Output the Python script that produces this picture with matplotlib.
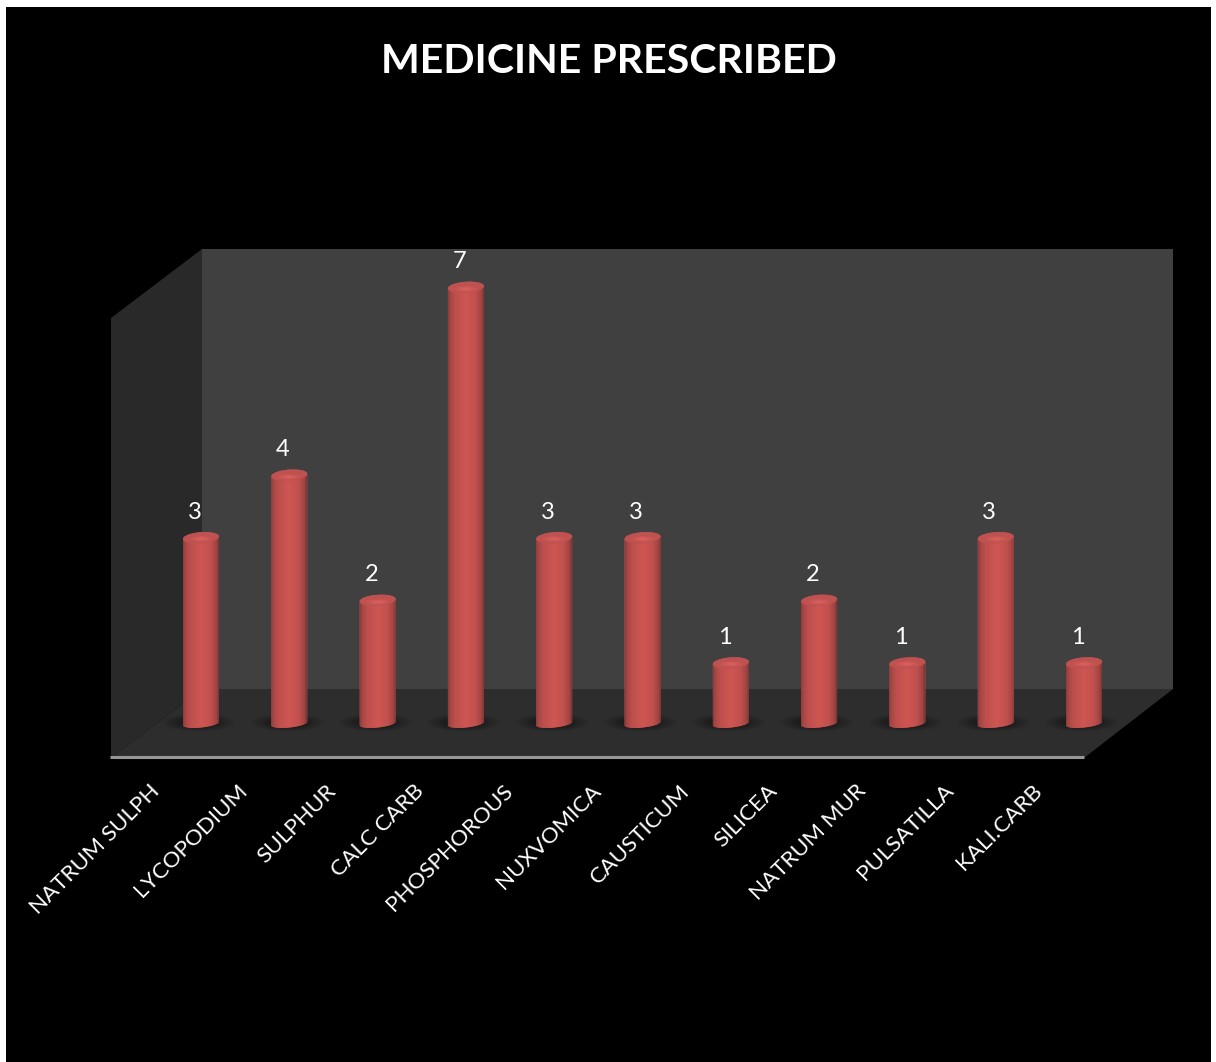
import matplotlib
matplotlib.use('Agg')
import matplotlib.pyplot as plt
import numpy as np
from matplotlib.patches import Polygon, PathPatch
from matplotlib.path import Path
from matplotlib.colors import LinearSegmentedColormap
from matplotlib.transforms import ScaledTranslation

medicines = ['NATRUM SULPH', 'LYCOPODIUM', 'SULPHUR', 'CALC CARB', 'PHOSPHOROUS', 'NUXVOMICA',
             'CAUSTICUM', 'SILICEA', 'NATRUM MUR', 'PULSATILLA', 'KALI.CARB']
prescribed = [3, 4, 2, 7, 3, 3, 1, 2, 1, 3, 1]

W, H = 1216, 1062
plt.rcParams['font.family'] = ['Lato', 'DejaVu Sans']

fig = plt.figure(figsize=(W / 100, H / 100), dpi=100, facecolor='white')


def px(x, y):
    return (x / W, 1 - y / H)


def panel(points, color, z=-1):
    fig.add_artist(Polygon([px(*p) for p in points], closed=True, facecolor=color, edgecolor='none',
                           transform=fig.transFigure, zorder=z))


# black chart area and the three walls of the box
panel([(6, 7), (1211, 7), (1211, 1062), (6, 1062)], '#000000', z=-3)
panel([(202, 249), (1173, 249), (1173, 689), (202, 689)], '#404040', z=-2)
panel([(111, 318), (202, 249), (202, 689), (111, 758)], '#292929', z=-2)
panel([(111, 758), (202, 689), (1173, 689), (1084, 758)], '#2d2d2d', z=-2)

# axes box: front edge of the floor up to the top of the back wall
left, right, top, bottom = 110, 1084, 249, 757.4
ax = fig.add_axes([left / W, 1 - bottom / H, (right - left) / W, (bottom - top) / H])
ax.patch.set_visible(False)

x_step = 88.3   # pixels per category
y_step = 62.6   # pixels per unit
x0_px, y0_px = 201, 725.5
xlim = ((left - x0_px) / x_step, (right - x0_px) / x_step)
ylim = ((y0_px - bottom) / y_step, (y0_px - top) / y_step)

half_w = 18.0 / x_step
cap_h = 5.5 / y_step
cap_tilt = 1.2 / y_step
foot_h = 4.0 / y_step
foot_tilt = 1.8 / y_step
foot_y = 2.0 / y_step

body_cmap = LinearSegmentedColormap.from_list('body', [
    (0.00, '#8a3a38'), (0.05, '#a34644'), (0.20, '#bd4f4c'), (0.50, '#cf5653'),
    (0.78, '#c0504d'), (0.93, '#a04543'), (1.00, '#7d3432')])
cap_cmap = LinearSegmentedColormap.from_list('cap', ['#bf5250', '#e0625e'])
gradient = np.linspace(0, 1, 128).reshape(1, -1)

# top face: a soft highlight towards its front edge
yy, xx = np.mgrid[-1:1:40j, -1:1:120j]
cap_shade = np.clip(1 - np.hypot(xx / 0.7, (yy - 0.25) / 0.4), 0, 1)

# soft shadow under a cylinder
yy, xx = np.mgrid[-1:1:80j, -1:1:160j]
shadow = np.zeros((80, 160, 4))
shadow[..., 3] = np.clip(1 - (xx ** 2 + yy ** 2), 0, 1) ** 1.3 * 0.5


def ellipse_points(cx, cy, h, tilt, t):
    return np.column_stack([cx + half_w * np.cos(t), cy + h * np.sin(t) + tilt * np.cos(t)])


for i, v in enumerate(prescribed):
    ax.imshow(shadow, extent=[i - 0.46, i + 0.41, -0.10, 0.20], aspect='auto', zorder=2,
              interpolation='bilinear', clip_on=False)

    # side of the cylinder, rounded along the floor
    lower = ellipse_points(i, foot_y, foot_h, foot_tilt, np.linspace(np.pi, 2 * np.pi, 40))
    verts = np.vstack([lower, [[i + half_w, v + cap_tilt]], [[i - half_w, v - cap_tilt]], lower[:1]])
    body = PathPatch(Path(verts), facecolor='#c0504d', edgecolor='none', zorder=3, clip_on=False)
    ax.add_patch(body)
    im = ax.imshow(gradient, cmap=body_cmap, extent=[i - half_w, i + half_w, -0.2, v + 0.2],
                   aspect='auto', zorder=3, interpolation='bilinear')
    im.set_clip_box(fig.bbox)
    im.set_clip_path(body)

    # top face
    outline = ellipse_points(i, v, cap_h, cap_tilt, np.linspace(0, 2 * np.pi, 80))
    cap = PathPatch(Path(outline), facecolor='#bd5250', edgecolor='none', zorder=4, clip_on=False)
    ax.add_patch(cap)
    im = ax.imshow(cap_shade, cmap=cap_cmap, vmin=0, vmax=1, interpolation='bilinear',
                   extent=[i - half_w, i + half_w, v - 0.12, v + 0.12], aspect='auto', zorder=4)
    im.set_clip_box(fig.bbox)
    im.set_clip_path(cap)

    ax.annotate(str(v), (i, v), xytext=(-4.6, 18.5), textcoords='offset points', ha='center', va='center',
                color='white', fontsize=17, zorder=5)

ax.set_xlim(*xlim)
ax.set_ylim(*ylim)
ax.set_yticks([])
ax.set_xticks(range(len(medicines)), medicines, rotation=45, ha='right', va='top', rotation_mode='anchor',
              color='white', fontsize=16.2)
ax.tick_params(axis='x', length=0, pad=8)

# labels sit to the left of their columns
shift = ScaledTranslation(-52 / 100, -12 / 100, fig.dpi_scale_trans)
for lab in ax.get_xticklabels():
    lab.set_transform(lab.get_transform() + shift)

for s in ['top', 'left', 'right']:
    ax.spines[s].set_visible(False)
ax.spines['bottom'].set_color('#969696')
ax.spines['bottom'].set_linewidth(2.2)
ax.spines['bottom'].set_capstyle('butt')

fig.text(608.5 / W, 1 - 62 / H, 'MEDICINE PRESCRIBED', color='white', fontsize=29.6, fontweight='bold',
         ha='center', va='center')

fig.savefig('out.png', dpi=100, facecolor=fig.get_facecolor())
